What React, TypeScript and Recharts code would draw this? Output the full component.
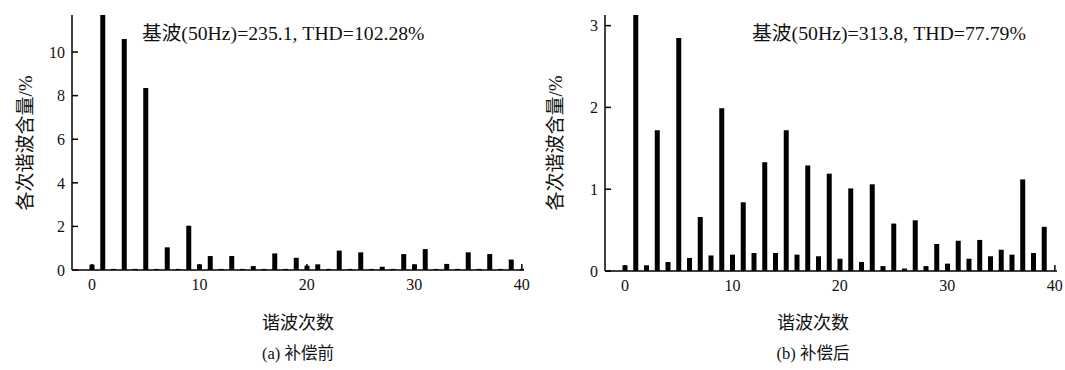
import { BarChart, Bar, XAxis, YAxis } from 'recharts';

// harmonic orders 0..40
const harmonics = Array.from({ length: 41 }, (_, i) => i);

// harmonic content (%) before compensation; order 1 is the fundamental (off the scale)
const beforeValues = [
  0.25, 100, 0.05, 10.6, 0.05, 8.35, 0.05, 1.04, 0.05, 2.03,
  0.26, 0.64, 0.05, 0.64, 0.05, 0.18, 0.05, 0.76, 0.05, 0.56,
  0.2, 0.26, 0.05, 0.89, 0.05, 0.81, 0.05, 0.15, 0.05, 0.73,
  0.26, 0.96, 0.05, 0.28, 0.05, 0.81, 0.05, 0.73, 0.05, 0.48,
  0.05,
];

// harmonic content (%) after compensation
const afterValues = [
  0.07, 100, 0.07, 1.72, 0.11, 2.85, 0.16, 0.66, 0.19, 1.99,
  0.2, 0.84, 0.22, 1.33, 0.22, 1.72, 0.2, 1.29, 0.18, 1.19,
  0.15, 1.01, 0.11, 1.06, 0.06, 0.58, 0.03, 0.62, 0.06, 0.33,
  0.09, 0.37, 0.15, 0.38, 0.18, 0.26, 0.2, 1.12, 0.22, 0.54,
  0,
];

const xTicks = [0, 10, 20, 30, 40];
const beforeTicks = [0, 2, 4, 6, 8, 10];
const afterTicks = [0, 1, 2, 3];

const beforeData = harmonics.map((h, i) => ({ order: h, value: beforeValues[i] }));
const afterData = harmonics.map((h, i) => ({ order: h, value: afterValues[i] }));

const FONT = "'Liberation Serif', 'Noto Sans CJK SC', serif";

// MATLAB-style ticks pointing into the plot
const YTick = ({ x, y, payload }: any) => (
  <g>
    <line x1={x} x2={x + 6} y1={y} y2={y} stroke="#000" strokeWidth={1.5} />
    <text x={x - 7} y={y} dy="0.36em" textAnchor="end" fontFamily={FONT} fontSize={16} fill="#111">
      {payload.value}
    </text>
  </g>
);

const XTick = ({ x, y, payload }: any) => (
  <g>
    <line x1={x} x2={x} y1={y} y2={y - 6} stroke="#000" strokeWidth={1.5} />
    <text x={x} y={y + 20} textAnchor="middle" fontFamily={FONT} fontSize={16} fill="#111">
      {payload.value}
    </text>
  </g>
);

const Harmonics = ({ data, yMax, yTicks, right }: any) => (
  <BarChart
    width={right ? 532 : 540}
    height={370}
    data={data}
    margin={{ top: 15, right: right ? 8 : 16, left: 0, bottom: right ? 69 : 70 }}
    barSize={5}
  >
    <XAxis
      dataKey="order"
      type="number"
      domain={[-1.85, 40.2]}
      ticks={xTicks}
      allowDataOverflow
      height={30}
      tickSize={0}
      tickMargin={0}
      tickLine={false}
      tick={<XTick />}
      axisLine={{ stroke: '#000', strokeWidth: 1.5 }}
    />
    <YAxis
      type="number"
      domain={[0, yMax]}
      ticks={yTicks}
      allowDataOverflow
      width={72}
      tickSize={0}
      tickMargin={0}
      tickLine={false}
      tick={<YTick />}
      axisLine={{ stroke: '#000', strokeWidth: 1.5 }}
    />
    <Bar dataKey="value" fill="#000" isAnimationActive={false} />
  </BarChart>
);

const textBase: any = { position: 'absolute', fontFamily: FONT, color: '#111', whiteSpace: 'nowrap' };

const YLabel = ({ cx }: { cx: number }) => (
  <div
    style={{
      ...textBase,
      left: cx,
      top: 143,
      fontSize: 19,
      transform: 'translate(-50%, -50%) rotate(-90deg)',
    }}
  >
    各次谐波含量/%
  </div>
);

const Centered = ({ cx, cy, size, children }: any) => (
  <div style={{ ...textBase, left: cx, top: cy, fontSize: size, transform: 'translate(-50%, -50%)' }}>
    {children}
  </div>
);

export default function App() {
  return (
    <div style={{ position: 'absolute', left: 0, top: 0, width: 1065, height: 370, background: '#fff' }}>
      <div style={{ position: 'absolute', left: 0, top: 0 }}>
        <Harmonics data={beforeData} yMax={11.7} yTicks={beforeTicks} />
      </div>
      <div style={{ position: 'absolute', left: 533, top: 0 }}>
        <Harmonics data={afterData} yMax={3.13} yTicks={afterTicks} right />
      </div>

      <div style={{ ...textBase, left: 142, top: 17, fontSize: 19.7 }}>基波(50Hz)=235.1, THD=102.28%</div>
      <div style={{ ...textBase, left: 752, top: 17, fontSize: 19.8 }}>基波(50Hz)=313.8, THD=77.79%</div>

      <YLabel cx={23} />
      <YLabel cx={553} />

      <Centered cx={298} cy={321} size={18}>谐波次数</Centered>
      <Centered cx={813} cy={321} size={18}>谐波次数</Centered>
      <Centered cx={298} cy={352} size={16.5}>(a) 补偿前</Centered>
      <Centered cx={813} cy={352} size={16.5}>(b) 补偿后</Centered>
    </div>
  );
}
